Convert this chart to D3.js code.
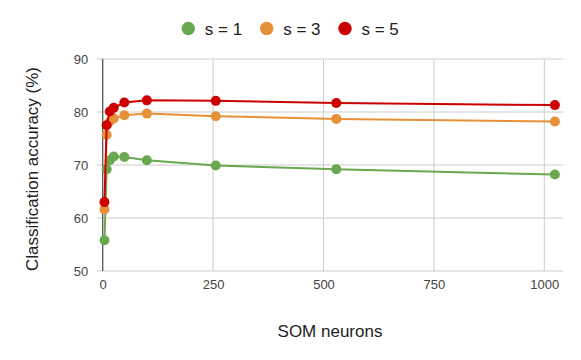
<!DOCTYPE html>
<html><head><meta charset="utf-8">
<script src="https://cdn.jsdelivr.net/npm/d3@7"></script>
<style>body{margin:0;background:#fff}svg{display:block}text{font-family:"Liberation Sans",Arial,sans-serif}</style>
</head><body>
<svg id="c" width="581" height="360"></svg>
<script>
const neurons = [4, 9, 16, 25, 49, 100, 256, 529, 1024];
const s1 = [55.8, 69.2, 70.9, 71.6, 71.5, 70.9, 69.9, 69.2, 68.2];
const s3 = [61.6, 75.7, 78.2, 78.8, 79.4, 79.7, 79.2, 78.7, 78.2];
const s5 = [63.0, 77.5, 80.1, 80.8, 81.8, 82.2, 82.1, 81.7, 81.3];
const seriesNames = ["s = 1", "s = 3", "s = 5"];
const colors = ["#6aa84f", "#e69138", "#cc0000"];
const xTicks = [0, 250, 500, 750, 1000];
const yTicks = [50, 60, 70, 80, 90];

const svg = d3.select("#c");
const x = d3.scaleLinear().domain([0, 1043]).range([102.7, 563.3]);
const y = d3.scaleLinear().domain([50, 90]).range([271, 59]);

// gridlines
svg.append("g").selectAll("line").data(yTicks).join("line")
  .attr("x1", 97).attr("x2", 563.3).attr("y1", d => y(d)).attr("y2", d => y(d))
  .attr("stroke", "#cccccc").attr("stroke-width", 1);
svg.append("g").selectAll("line").data(xTicks.filter(d => d > 0)).join("line")
  .attr("x1", d => x(d)).attr("x2", d => x(d)).attr("y1", y(90)).attr("y2", y(50))
  .attr("stroke", "#cccccc").attr("stroke-width", 1);

const yAxis = svg.append("g").attr("transform", `translate(${x(0)},0)`)
  .call(d3.axisLeft(y).tickValues(yTicks).tickSize(0).tickPadding(14.5).tickFormat(d3.format("d")));
yAxis.select(".domain").remove();
yAxis.selectAll("text").attr("fill", "#444").attr("font-size", 13);

const xAxis = svg.append("g").attr("transform", `translate(0,${y(50)})`)
  .call(d3.axisBottom(x).tickValues(xTicks).tickSize(0).tickPadding(9).tickFormat(d3.format("d")));
xAxis.select(".domain").remove();
xAxis.selectAll("text").attr("fill", "#444").attr("font-size", 13);

// y axis line
svg.append("line").attr("x1", x(0)).attr("x2", x(0)).attr("y1", y(90)).attr("y2", y(50))
  .attr("stroke", "#555").attr("stroke-width", 1.3);

const all = [s1, s3, s5];
const line = d3.line().x((d, i) => x(neurons[i])).y(d => y(d));
all.forEach((vals, k) => {
  svg.append("path").datum(vals).attr("d", line).attr("fill", "none")
    .attr("stroke", colors[k]).attr("stroke-width", 2);
  svg.append("g").selectAll("circle").data(vals).join("circle")
    .attr("cx", (d, i) => x(neurons[i])).attr("cy", d => y(d)).attr("r", 5)
    .attr("fill", colors[k]);
});

// titles
svg.append("text").attr("x", 330).attr("y", 337).attr("text-anchor", "middle")
  .attr("font-size", 17).attr("fill", "#222").text("SOM neurons");
svg.append("text").attr("transform", `translate(38,169) rotate(-90)`).attr("text-anchor", "middle")
  .attr("font-size", 17).attr("fill", "#222").text("Classification accuracy (%)");

// legend
const legX = [188.3, 266.7, 345];
const lg = svg.append("g").selectAll("g").data(seriesNames).join("g")
  .attr("transform", (d, i) => `translate(${legX[i]},28.5)`);
lg.append("circle").attr("r", 6.7).attr("fill", (d, i) => colors[i]);
lg.append("text").attr("x", 16.5).attr("y", 6.3).attr("font-size", 17).attr("fill", "#222").text(d => d);
</script>
</body></html>
